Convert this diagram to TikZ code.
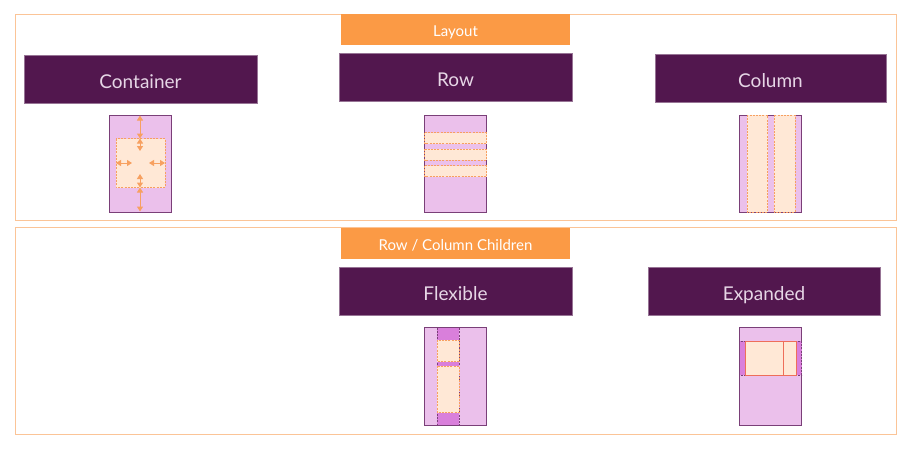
\documentclass[tikz,border=0pt]{standalone}
\usepackage{fontspec}
\setmainfont{Lato}
\usetikzlibrary{arrows.meta}
\definecolor{frameC}{HTML}{FBC497}
\definecolor{titleC}{HTML}{FB9A45}
\definecolor{headC}{HTML}{52174E}
\definecolor{headT}{HTML}{E6D6E6}
\definecolor{boxF}{HTML}{EBC0EB}
\definecolor{boxD}{HTML}{7A3F78}
\definecolor{peach}{HTML}{FFE8D6}
\definecolor{dashO}{HTML}{F7A060}
\definecolor{flexF}{HTML}{D97FDB}
\definecolor{expR}{HTML}{EE6E5A}
\tikzset{
  frame/.style={draw=frameC, line width=1pt},
  title/.style={fill=titleC, text=white, minimum width=229pt, minimum height=31pt, inner sep=0pt, text height=13.2pt, text depth=0pt, font=\fontsize{15}{18}\selectfont},
  header/.style={fill=headC, draw=headC!60!white, line width=0.5pt, text=headT, minimum height=48pt, inner sep=0pt, text height=18pt, text depth=0pt, font=\fontsize{19}{22}\selectfont},
  outerbox/.style={fill=boxF, draw=boxD, line width=0.8pt},
  inbox/.style={fill=peach, draw=dashO, dashed, dash pattern=on 2pt off 1.2pt, line width=0.8pt},
  flexstrip/.style={fill=flexF, draw=boxD, dashed, dash pattern=on 2pt off 1.2pt, line width=0.7pt},
  arr/.style={draw=dashO, line width=1pt, {Triangle[length=5pt,width=6pt]}-{Triangle[length=5pt,width=6pt]}}
}
\begin{document}
\begin{tikzpicture}[x=1pt,y=-1pt]
\useasboundingbox (0,0) rectangle (911,453);
% frames
\draw[frame] (15,14) rectangle (896,220);
\draw[frame] (15,227) rectangle (896,434);
% titles
\node[title] (layout) at (455.5,29.5) {Layout};
\node[title] (children) at (455.5,243.5) {Row / Column Children};
% headers
\node[header, minimum width=233pt] (container) at (140.5,79.5) {Container};
\node[header, minimum width=233pt] (row) at (455.5,77.5) {Row};
\node[header, minimum width=231pt] (column) at (770.5,78) {Column};
\node[header, minimum width=233pt] (flexible) at (455.5,291) {Flexible};
\node[header, minimum width=232pt] (expanded) at (764,291) {Expanded};
% container diagram
\draw[outerbox] (109.5,115) rectangle (171.5,212);
\draw[inbox] (116,138.5) rectangle (165,187.5);
\draw[arr] (140,115.5) -- (140,138.5);
\draw[arr] (140,138.5) -- (140,151);
\draw[arr] (140,174) -- (140,187.5);
\draw[arr] (140,187.5) -- (140,211.5);
\draw[arr] (116,163) -- (132,163);
\draw[arr] (149,163) -- (165,163);
% row diagram
\draw[outerbox] (424.5,115) rectangle (486.5,212);
\draw[inbox] (424.5,132.5) rectangle (486.5,143.5);
\draw[inbox] (424.5,149) rectangle (486.5,160);
\draw[inbox] (424.5,165.5) rectangle (486.5,176.5);
% column diagram
\draw[outerbox] (739.5,115) rectangle (801.5,212);
\draw[inbox] (747,115) rectangle (767.5,212);
\draw[inbox] (774,115) rectangle (795,212);
% flexible diagram
\draw[outerbox] (424.5,327.5) rectangle (486.5,425);
\draw[flexstrip] (437,327.5) rectangle (459,425);
\draw[inbox] (437,340) rectangle (459,361.5);
\draw[inbox] (437,366) rectangle (459,412.5);
% expanded diagram
\draw[outerbox] (739.5,327.5) rectangle (801.5,425);
\draw[flexstrip] (739.5,341) rectangle (801.5,375);
\draw[inbox, draw=expR, solid] (745,341) rectangle (783,375);
\draw[inbox, draw=expR, solid] (783,341) rectangle (796,375);
\end{tikzpicture}
\end{document}
